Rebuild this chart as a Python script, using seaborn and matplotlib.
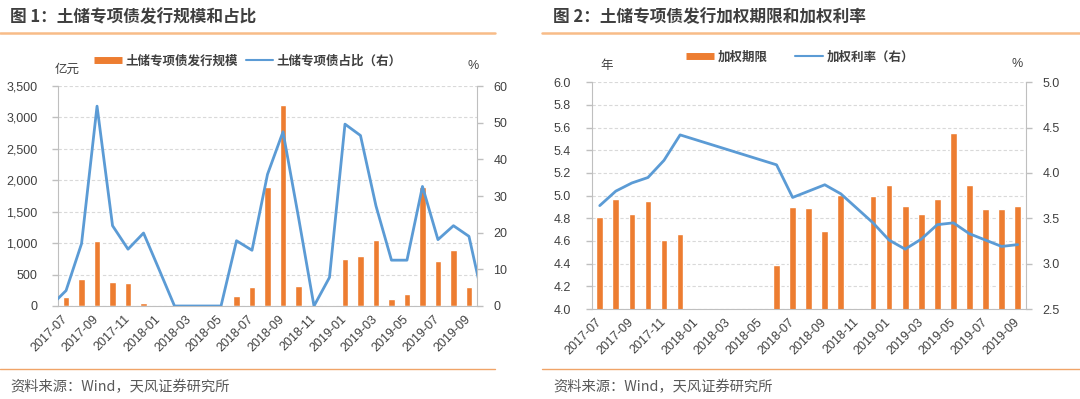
import matplotlib
matplotlib.use('Agg')
import matplotlib.pyplot as plt
import seaborn as sns
import pandas as pd
import numpy as np
from matplotlib.lines import Line2D
from matplotlib.ticker import FuncFormatter, MultipleLocator

sns.set_style('white')
plt.rcParams['font.family'] = ['Noto Sans CJK SC', 'DejaVu Sans']

ORANGE = '#ED7D31'
BLUE = '#5B9BD5'
GRID = '#D9D9D9'
AXC = '#BFBFBF'
TXT = '#404040'
NUMFONT = ['Liberation Sans', 'DejaVu Sans']

months = ['2017-07', '2017-08', '2017-09', '2017-10', '2017-11', '2017-12',
          '2018-01', '2018-02', '2018-03', '2018-04', '2018-05', '2018-06',
          '2018-07', '2018-08', '2018-09', '2018-10', '2018-11', '2018-12',
          '2019-01', '2019-02', '2019-03', '2019-04', '2019-05', '2019-06',
          '2019-07', '2019-08', '2019-09']

# chart 1: issuance (亿元) and share (%)
scale = [140, 430, 1030, 380, 370, 55, 0, 0, 0, 0, 0, 160, 295, 1890, 3190,
         315, 0, 15, 755, 790, 1050, 115, 190, 1895, 715, 885, 300]
share_months = ['2017-06'] + months + ['2019-10']
share = [0, 4.2, 17.0, 54.5, 21.9, 15.5, 19.9, 10.0, 0, 0, 0, 0, 17.8, 15.2,
         35.9, 47.5, 24.2, 0, 7.8, 49.6, 46.5, 27.3, 12.5, 12.5, 32.6, 18.1,
         21.9, 19.0, 0]

# chart 2: weighted tenor (年) and weighted rate (%)
tenor = [4.81, 4.97, 4.84, 4.95, 4.61, 4.66, np.nan, np.nan, np.nan, np.nan,
         np.nan, 4.39, 4.90, 4.89, 4.69, 5.01, np.nan, 5.00, 5.09, 4.91, 4.84,
         4.97, 5.55, 5.09, 4.88, 4.88, 4.91]
rate = [3.64, 3.80, 3.89, 3.95, 4.14, 4.42, np.nan, np.nan, np.nan, np.nan,
        np.nan, 4.09, 3.73, 3.80, 3.87, 3.77, np.nan, 3.45, 3.26, 3.16, 3.27,
        3.43, 3.45, 3.33, 3.26, 3.19, 3.21]

W, H = 1080, 399


def month_pos(m):
    return (pd.Period(m, 'M') - pd.Period(months[0], 'M')).n


def px(x, y):
    return x / W, 1 - y / H


def style_axes(ax, ax2):
    n = len(months)
    ax.set_xlim(-0.5, n - 0.5)
    ax.set_xlabel('')
    ax.set_ylabel('')
    ax2.set_ylabel('')
    ax.set_xticks(range(0, n, 2))
    ax.set_xticklabels(months[::2], rotation=45, ha='right', va='center',
                       rotation_mode='anchor', fontsize=9, color=TXT,
                       family=NUMFONT)
    ax.set_xticks(np.arange(-0.5, n, 2), minor=True)
    ax.tick_params(axis='x', which='major', length=0, pad=8)
    ax.tick_params(axis='x', which='minor', length=4, color=AXC, width=1)
    ax.tick_params(axis='y', length=4, color=AXC, width=1, labelsize=9,
                   labelcolor=TXT, pad=11)
    ax2.tick_params(axis='y', length=4, color=AXC, width=1, labelsize=9,
                    labelcolor=TXT, pad=8)
    for lab in ax.get_yticklabels() + ax2.get_yticklabels():
        lab.set_family(NUMFONT)
    ax.yaxis.grid(True, color=GRID, ls=(0, (3, 2)), lw=0.8)
    ax.xaxis.grid(False)
    ax.set_axisbelow(True)
    for s in ['top', 'right']:
        ax.spines[s].set_visible(False)
    for s in ['top', 'left', 'bottom']:
        ax2.spines[s].set_visible(False)
    for s in ['left', 'bottom']:
        ax.spines[s].set_color(AXC)
    ax2.spines['right'].set_color(AXC)
    ax.patch.set_alpha(0)


fig = plt.figure(figsize=(W / 100, H / 100), dpi=100)

# ---------------- chart 1 ----------------
ax = fig.add_axes([58.3 / W, (H - 306) / H, 418.4 / W, 220 / H])
df1 = pd.DataFrame({'month': months, 'scale': scale})
sns.barplot(data=df1, x='month', y='scale', order=months, color=ORANGE,
            width=0.4, saturation=1, ax=ax)
ax.set_ylim(0, 3500)
ax.yaxis.set_major_locator(MultipleLocator(500))
ax.yaxis.set_major_formatter(FuncFormatter(lambda v, p: f'{int(v):,}'))
ax2 = ax.twinx()
line1 = pd.DataFrame({'pos': [month_pos(m) for m in share_months], 'share': share})
sns.lineplot(data=line1, x='pos', y='share', color=BLUE, lw=2, ax=ax2)
ax2.set_ylim(0, 60)
ax2.yaxis.set_major_locator(MultipleLocator(10))
style_axes(ax, ax2)

# ---------------- chart 2 ----------------
bx = fig.add_axes([591.7 / W, (H - 309) / H, 434 / W, 226.7 / H])
df2 = pd.DataFrame({'month': months, 'tenor': tenor})
sns.barplot(data=df2.dropna(), x='month', y='tenor', order=months,
            color=ORANGE, width=0.42, saturation=1, ax=bx)
bx.set_ylim(4.0, 6.0)
bx.yaxis.set_major_locator(MultipleLocator(0.2))
bx.yaxis.set_major_formatter(FuncFormatter(lambda v, p: f'{v:.1f}'))
bx2 = bx.twinx()
line2 = pd.DataFrame({'pos': [month_pos(m) for m in months], 'rate': rate}).dropna()
sns.lineplot(data=line2, x='pos', y='rate', color=BLUE, lw=2, ax=bx2)
bx2.set_ylim(2.5, 5.0)
bx2.yaxis.set_major_locator(MultipleLocator(0.5))
bx2.yaxis.set_major_formatter(FuncFormatter(lambda v, p: f'{v:.1f}'))
style_axes(bx, bx2)

# ---------------- titles, rules, notes ----------------
fig.text(*px(10, 17), '图 1：土储专项债发行规模和占比', fontsize=12,
         fontweight='bold', color='#3F3F3F', va='center', ha='left')
fig.text(*px(553, 17), '图 2：土储专项债发行加权期限和加权利率', fontsize=12,
         fontweight='bold', color='#3F3F3F', va='center', ha='left')
for x0, x1 in [(0, 495), (542, 1080)]:
    fig.add_artist(Line2D([x0 / W, x1 / W], [1 - 33 / H] * 2, color='#F8BC88',
                          lw=1.8, transform=fig.transFigure))
    fig.add_artist(Line2D([x0 / W, x1 / W], [1 - 369 / H] * 2, color='#F0A468',
                          lw=1.0, transform=fig.transFigure))
fig.text(*px(10, 387), '资料来源：Wind，天风证券研究所', fontsize=10.3,
         color='#595959', va='center', ha='left')
fig.text(*px(553, 387), '资料来源：Wind，天风证券研究所', fontsize=10.3,
         color='#595959', va='center', ha='left')

fig.text(*px(55, 69), '亿元', fontsize=9, color=TXT, va='center', ha='left')
fig.text(*px(467, 66), '%', fontsize=9, color=TXT, va='center', ha='left',
         family=NUMFONT)
fig.text(*px(600, 66), '年', fontsize=9, color=TXT, va='center', ha='left')
fig.text(*px(1011, 64), '%', fontsize=9, color=TXT, va='center', ha='left',
         family=NUMFONT)

h_bar = Line2D([], [], color=ORANGE, lw=5, solid_capstyle='butt')
h_line = Line2D([], [], color=BLUE, lw=1.5)
fig.legend([h_bar, h_line], ['土储专项债发行规模', '土储专项债占比（右）'],
           loc='center', bbox_to_anchor=px(248, 61), ncol=2, frameon=False,
           prop={'size': 9, 'weight': 'bold'}, handlelength=2.2,
           handletextpad=0.3, columnspacing=0.6, labelcolor=TXT)
fig.legend([h_bar, h_line], ['加权期限', '加权利率（右）'],
           loc='center', bbox_to_anchor=px(800, 57), ncol=2, frameon=False,
           prop={'size': 9, 'weight': 'bold'}, handlelength=2.2,
           handletextpad=0.3, columnspacing=2.2, labelcolor=TXT)

fig.savefig('out.png', dpi=100)
